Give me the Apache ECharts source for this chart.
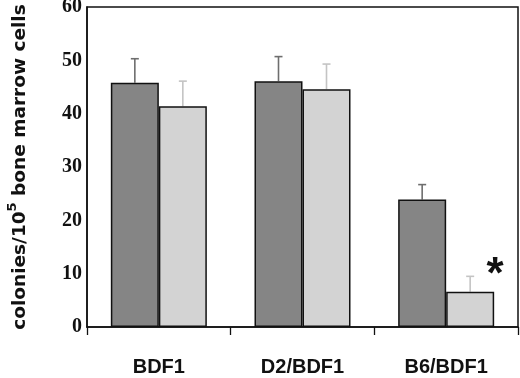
<!DOCTYPE html>
<html>
<head>
<meta charset="utf-8">
<script src="https://cdn.jsdelivr.net/npm/echarts@6/dist/echarts.min.js"></script>
<style>
  html, body { margin: 0; padding: 0; background: #fff; }
  #chart { width: 520px; height: 378px; }
</style>
</head>
<body>
<div id="chart"></div>
<script>
// data
const strains = ['BDF1', 'D2/BDF1', 'B6/BDF1']
const darkMeans = [45.8, 46.1, 23.9]
const darkErrTop = [50.3, 50.7, 26.7]
const lightMeans = [41.4, 44.6, 6.6]
const lightErrTop = [46.1, 49.3, 9.5]
const marks = ['', '', '*']
const yTicks = [0, 10, 20, 30, 40, 50, 60]

const BAR_W = 48

// errbar drawing: only the upper whisker with a small cap
function errRenderer(shift, color) {
  return function (params, api) {
    let cat = api.value(0)
    let base = api.coord([cat, api.value(1)])
    let top = api.coord([cat, api.value(2)])
    let x = base[0] + shift
    let style = { stroke: color, lineWidth: 1.6 }
    return {
      type: 'group',
      children: [
        { type: 'line', shape: { x1: x, y1: base[1], x2: x, y2: top[1] }, style: style },
        { type: 'line', shape: { x1: x - 4, y1: top[1], x2: x + 4, y2: top[1] }, style: style }
      ]
    }
  }
}

let chart = echarts.init(document.getElementById('chart'))
chart.setOption({
  animation: false,
  grid: {
    left: 87, right: 2, top: 7, bottom: 51, outerBoundsMode: 'none', containLabel: false,
    show: true, borderColor: '#111', borderWidth: 1.5
  },
  xAxis: {
    type: 'category',
    data: strains,
    axisLine: { lineStyle: { color: '#111', width: 1.5 } },
    axisTick: { show: true, length: 8, lineStyle: { color: '#111', width: 1.3 } },
    axisLabel: {
      margin: 30, color: '#111', fontFamily: 'Liberation Sans, Arial, sans-serif',
      fontWeight: 'bold', fontSize: 20
    }
  },
  yAxis: {
    type: 'value',
    min: yTicks[0], max: yTicks[yTicks.length - 1], interval: 10,
    splitLine: { show: false },
    axisTick: { show: false },
    axisLine: { show: true, lineStyle: { color: '#111', width: 1.5 } },
    axisLabel: {
      margin: 5, color: '#111', fontFamily: 'Liberation Serif, Times New Roman, serif',
      fontWeight: 'bold', fontSize: 20
    },
    name: '{a|colonies/10}{s|5}{a| bone marrow cells}',
    nameLocation: 'middle',
    nameGap: 57,
    nameRotate: 90,
    nameTextStyle: {
      rich: {
        a: { fontFamily: 'DejaVu Sans, sans-serif', fontSize: 18.5, fontWeight: 'bold', color: '#111', lineHeight: 24, verticalAlign: 'bottom' },
        s: { fontFamily: 'DejaVu Sans, sans-serif', fontSize: 13, fontWeight: 'bold', color: '#111', lineHeight: 24, verticalAlign: 'top' }
      }
    }
  },
  series: [
    {
      type: 'bar', data: darkMeans, barWidth: BAR_W, barGap: '0%',
      itemStyle: { color: '#858585', borderColor: '#111', borderWidth: 1.5 }
    },
    {
      type: 'bar', data: lightMeans, barWidth: BAR_W, barGap: '0%',
      itemStyle: { color: '#d3d3d3', borderColor: '#111', borderWidth: 1.5 }
    },
    {
      type: 'custom', z: 1,
      data: strains.map((s, i) => [i, darkMeans[i], darkErrTop[i]]),
      renderItem: errRenderer(-BAR_W / 2, '#6e6e6e')
    },
    {
      type: 'custom', z: 1,
      data: strains.map((s, i) => [i, lightMeans[i], lightErrTop[i]]),
      renderItem: function (params, api) {
        let g = errRenderer(BAR_W / 2, '#c4c4c4')(params, api)
        let m = marks[params.dataIndex]
        if (m) {
          let top = api.coord([api.value(0), api.value(2)])
          g.children.push({
            type: 'text',
            x: top[0] + 25 + BAR_W / 2,
            y: top[1],
            style: {
              text: m,
              font: 'bold 44px Liberation Sans, Arial, sans-serif',
              fill: '#111', align: 'center', verticalAlign: 'middle'
            }
          })
        }
        return g
      }
    }
  ]
})
</script>
</body>
</html>
